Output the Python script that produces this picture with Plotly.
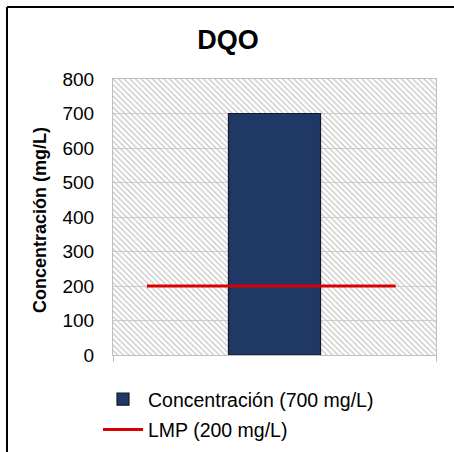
import plotly.graph_objects as go

# Data
categories = ["DQO"]
concentracion = [700]
lmp_value = 200
y_ticks = [0, 100, 200, 300, 400, 500, 600, 700, 800]
y_max = 800
bar_label = "Concentración (700 mg/L)"
line_label = "LMP (200 mg/L)"
title_text = "DQO"
y_title = "Concentración (mg/L)"
line_x = [-0.395, 0.375]

W, H = 454, 452
L, R, T, B = 113, 18, 79, 97
pw, ph = W - L - R, H - T - B

def px_x(p):
    return (p - L) / pw

def px_y(p):
    return (H - B - p) / ph

fig = go.Figure()

# hatched background of the plot area
fig.add_trace(go.Bar(
    x=[0], y=[y_max], width=[1.0],
    marker=dict(color="rgba(0,0,0,0)", line=dict(width=0),
                pattern=dict(shape="\\", fgcolor="#c4c4c4", bgcolor="rgba(0,0,0,0)",
                             size=4, solidity=0.3, fillmode="replace")),
    showlegend=False, hoverinfo="skip"))

fig.add_trace(go.Bar(
    x=[0], y=concentracion, width=[0.285], name=bar_label, legendgroup="a",
    marker=dict(color="#1f3864", line=dict(color="#0f1a30", width=1.2)),
))

fig.add_trace(go.Scatter(
    x=line_x, y=[lmp_value] * len(line_x), mode="lines", name=line_label, legendgroup="b",
    line=dict(color="#d80000", width=3),
))

font_family = "Liberation Sans, Arial, sans-serif"

fig.update_layout(
    width=W, height=H,
    margin=dict(l=L, r=R, t=T, b=B, autoexpand=False),
    paper_bgcolor="white", plot_bgcolor="white",
    font=dict(family=font_family, size=18, color="#000000"),
    title=dict(text="<b>" + title_text + "</b>", x=px_x(228), xref="paper", xanchor="center",
               y=1 - 40 / H, yanchor="middle", font=dict(size=27, family=font_family)),
    barmode="overlay",
    showlegend=True,
    legend=dict(x=98 / W, y=1 - 380 / H, xref="container", yref="container",
                xanchor="left", yanchor="top",
                font=dict(size=19.5, family=font_family), tracegroupgap=2,
                itemwidth=40, bgcolor="rgba(0,0,0,0)"),
    xaxis=dict(range=[-0.5, 0.5], showticklabels=False, showgrid=False, zeroline=False,
               showline=True, linecolor="#bfbfbf", linewidth=1, mirror=True,
               ticks="outside", tickvals=[-0.5, 0.5], ticklen=6, tickcolor="#bfbfbf"),
    yaxis=dict(range=[0, y_max], tickvals=y_ticks, showgrid=True, gridcolor="#cfcfcf",
               gridwidth=1, zeroline=False, showline=True, linecolor="#bfbfbf", mirror=True,
               ticks="", ticklabelstandoff=14,
               tickfont=dict(size=19, family=font_family)),
    annotations=[
        dict(text="<b>" + y_title + "</b>", xref="paper", yref="paper",
             x=px_x(40), y=px_y(220), xanchor="center", yanchor="middle",
             textangle=-90, showarrow=False, font=dict(size=18, family=font_family)),
    ],
    shapes=[
        dict(type="line", xref="paper", yref="paper", x0=px_x(7), x1=px_x(460),
             y0=px_y(7), y1=px_y(7), line=dict(color="black", width=2)),
        dict(type="line", xref="paper", yref="paper", x0=px_x(7), x1=px_x(7),
             y0=px_y(7), y1=px_y(460), line=dict(color="black", width=2)),
    ],
)

fig.write_html("out.html")
